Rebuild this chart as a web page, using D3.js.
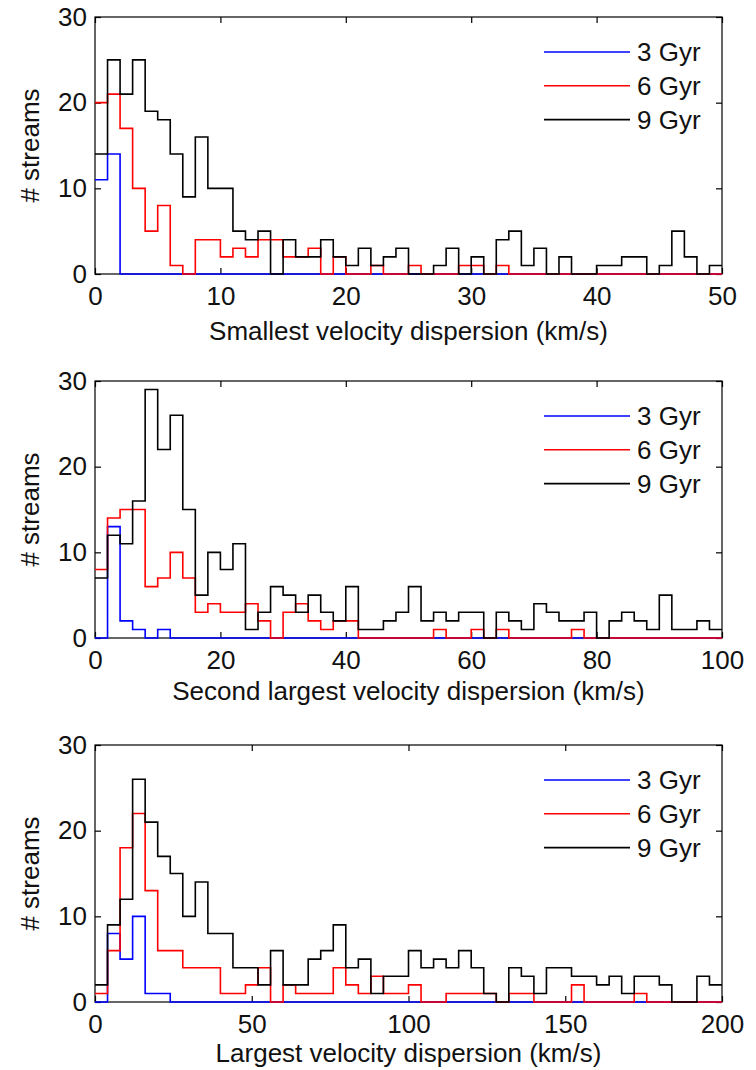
<!DOCTYPE html>
<html>
<head>
<meta charset="utf-8">
<script src="https://cdn.jsdelivr.net/npm/d3@7"></script>
<style>
  html, body { margin: 0; padding: 0; background: #fff; }
  svg text { font-family: "Liberation Sans", Arial, sans-serif; fill: #111; }
</style>
</head>
<body>
<script>
// Stream counts per bin, 50 equal-width bins per panel
const seriesNames = ["3 Gyr", "6 Gyr", "9 Gyr"];
const seriesColors = ["#0000ff", "#ff0000", "#000000"];

// Smallest velocity dispersion, 0-50 km/s, 1 km/s bins
const smallest3 = [11,14,0,0,0,0,0,0,0,0, 0,0,0,0,0,0,0,0,0,0, 0,0,0,0,0,0,0,0,0,0, 0,0,0,0,0,0,0,0,0,0, 0,0,0,0,0,0,0,0,0,0];
const smallest6 = [20,21,17,10,5,8,1,0,4,4, 2,3,2,4,4,2,2,3,0,2, 0,0,1,0,0,1,0,0,0,1, 1,0,1,0,0,0,0,0,0,0, 0,0,0,0,0,0,0,0,0,0];
const smallest9 = [14,25,21,25,19,18,14,9,16,10, 10,5,4,5,0,4,2,2,4,2, 1,3,1,2,3,0,0,1,3,0, 2,0,4,5,1,3,0,2,0,0, 1,1,2,2,0,1,5,2,0,1];

// Second largest velocity dispersion, 0-100 km/s, 2 km/s bins
const second3 = [0,13,2,1,0,1,0,0,0,0, 0,0,0,0,0,0,0,0,0,0, 0,0,0,0,0,0,0,0,0,0, 0,0,0,0,0,0,0,0,0,0, 0,0,0,0,0,0,0,0,0,0];
const second6 = [8,14,15,15,6,7,10,7,3,4, 3,3,4,2,0,3,4,2,1,2, 2,0,0,0,0,0,0,1,0,0, 1,0,1,0,0,0,0,0,1,0, 0,0,0,0,0,0,0,0,0,0];
const second9 = [7,12,11,16,29,22,26,15,5,10, 8,11,1,3,6,5,3,5,3,2, 6,1,1,2,3,6,2,3,2,3, 3,0,3,2,1,4,3,2,2,3, 0,2,3,2,1,5,1,1,2,1];

// Largest velocity dispersion, 0-200 km/s, 4 km/s bins
const largest3 = [0,8,5,10,1,1,0,0,0,0, 0,0,0,0,0,0,0,0,0,0, 0,0,0,0,0,0,0,0,0,0, 0,0,0,0,0,0,0,0,0,0, 0,0,0,0,0,0,0,0,0,0];
const largest6 = [1,6,18,22,13,6,6,4,4,4, 1,1,2,4,0,2,1,1,1,4, 2,1,3,1,1,2,0,0,1,1, 1,1,0,1,1,0,0,0,2,0, 0,0,0,1,0,0,0,0,0,0];
const largest9 = [2,9,12,26,21,17,15,10,14,8, 8,4,4,2,6,2,2,5,6,9, 4,5,1,3,3,6,4,5,4,6, 4,1,0,4,3,1,4,4,3,3, 2,3,1,3,3,2,0,0,3,2];

const xMaxes = [50, 100, 200];
const xTicks = [[0,10,20,30,40,50], [0,20,40,60,80,100], [0,50,100,150,200]];
const yTicks = [0, 10, 20, 30];
const yMax = 30;
const xLabels = ["Smallest velocity dispersion (km/s)",
                 "Second largest velocity dispersion (km/s)",
                 "Largest velocity dispersion (km/s)"];
const yLabel = "# streams";
const panelSeries = [[smallest3, smallest6, smallest9],
                     [second3, second6, second9],
                     [largest3, largest6, largest9]];

// Layout
const W = 756, H = 1070;
const left = 95, right = 722;
const tops = [17, 381, 745];
const plotH = 257;
const xLabelOffsets = [66, 62, 60];
const fontSize = 26;

const svg = d3.select("body").append("svg")
  .attr("width", W).attr("height", H);

panelSeries.forEach((series, p) => {
  const top = tops[p];
  const g = svg.append("g").attr("transform", `translate(${left},${top})`);
  const w = right - left;

  const x = d3.scaleLinear().domain([0, xMaxes[p]]).range([0, w]);
  const y = d3.scaleLinear().domain([0, yMax]).range([plotH, 0]);

  // Axes box
  g.append("rect").attr("x", 0).attr("y", 0).attr("width", w).attr("height", plotH)
    .attr("fill", "none").attr("stroke", "#000").attr("stroke-width", 1.2);

  const styleAxis = sel => {
    sel.select(".domain").remove();
    sel.selectAll(".tick line").attr("stroke", "#000").attr("stroke-width", 1.2);
    sel.selectAll("text").attr("font-size", fontSize).attr("fill", "#111")
      .style("font-family", '"Liberation Sans", Arial, sans-serif');
  };

  g.append("g").attr("transform", `translate(0,${plotH})`)
    .call(d3.axisBottom(x).tickValues(xTicks[p]).tickSizeInner(-6).tickSizeOuter(0).tickPadding(13))
    .call(styleAxis);
  g.append("g")
    .call(d3.axisTop(x).tickValues(xTicks[p]).tickSizeInner(-6).tickSizeOuter(0).tickFormat(""))
    .call(styleAxis);
  g.append("g")
    .call(d3.axisLeft(y).tickValues(yTicks).tickSizeInner(-6).tickSizeOuter(0).tickPadding(8))
    .call(styleAxis);
  g.append("g").attr("transform", `translate(${w},0)`)
    .call(d3.axisRight(y).tickValues(yTicks).tickSizeInner(-6).tickSizeOuter(0).tickFormat(""))
    .call(styleAxis);

  // Stair-step histograms
  const binW = xMaxes[p] / 50;
  const line = d3.line()
    .x(d => x(d[0])).y(d => y(d[1]))
    .curve(d3.curveStepAfter);
  series.forEach((counts, s) => {
    const pts = counts.map((c, i) => [i * binW, c]);
    pts.push([counts.length * binW, counts[counts.length - 1]]);
    g.append("path").datum(pts)
      .attr("d", line)
      .attr("fill", "none")
      .attr("stroke", seriesColors[s])
      .attr("stroke-width", 1.6)
      .attr("stroke-linejoin", "miter");
  });

  // Legend
  const legY0 = 35, legDy = 33.8;
  seriesNames.forEach((name, s) => {
    const ly = legY0 + s * legDy;
    g.append("line")
      .attr("x1", 544 - left).attr("x2", 630 - left)
      .attr("y1", ly).attr("y2", ly)
      .attr("stroke", seriesColors[s]).attr("stroke-width", 1.6);
    g.append("text")
      .attr("x", 637 - left).attr("y", ly).attr("dy", "0.35em")
      .attr("font-size", fontSize)
      .text(name);
  });

  // Axis titles
  g.append("text")
    .attr("x", w / 2).attr("y", plotH + xLabelOffsets[p])
    .attr("text-anchor", "middle")
    .attr("font-size", fontSize)
    .text(xLabels[p]);
  g.append("text")
    .attr("transform", `translate(${30 - left},${plotH / 2}) rotate(-90)`)
    .attr("text-anchor", "middle").attr("dy", "0.35em")
    .attr("font-size", fontSize)
    .text(yLabel);
});
</script>
</body>
</html>
